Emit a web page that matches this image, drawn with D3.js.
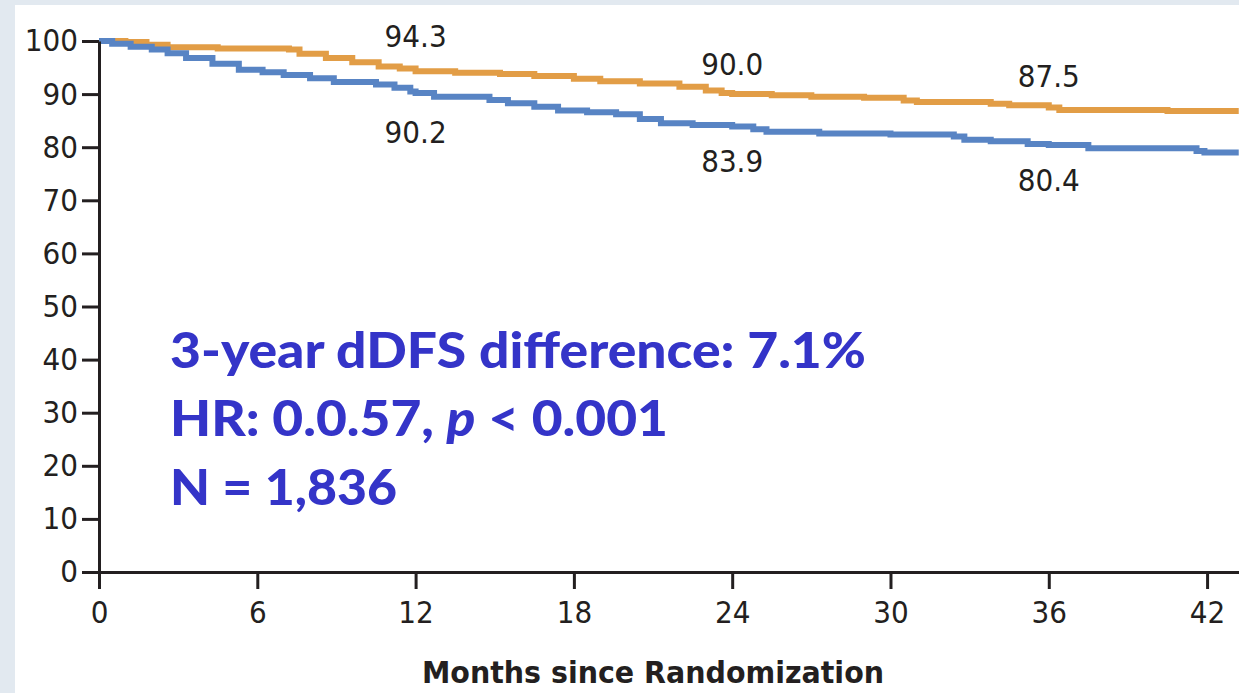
<!DOCTYPE html>
<html>
<head>
<meta charset="utf-8">
<script src="https://cdn.jsdelivr.net/npm/d3@7"></script>
<style>
  html, body { margin: 0; padding: 0; background: #e2e9f0; }
  svg { display: block; }
  .axis text { font-family: "Liberation Sans Narrow", "DejaVu Sans Condensed", sans-serif; font-size: 31px; fill: #231f20; }
  .axis path, .axis line { stroke: #231f20; stroke-width: 3px; }
</style>
</head>
<body>
<svg id="chart" width="1239" height="693"></svg>
<script>
var width = 1239;
var height = 693;

// tick labels
var monthTicks = [0, 6, 12, 18, 24, 30, 36, 42];
var pctTicks = [0, 10, 20, 30, 40, 50, 60, 70, 80, 90, 100];

// orange curve (upper arm)
var orangeMonths = [0, 1.0, 1.8, 2.6, 4.5, 7.2, 7.6, 8.6, 9.6, 10.6, 11.4, 12.0, 13.5, 15.2, 16.5, 18.0, 19.0, 20.5, 22.0, 23.0, 23.6, 24.0, 25.5, 27.0, 29.0, 30.5, 31.0, 33.8, 34.5, 36.0, 36.4, 40.5, 43.2];
var orangeSurv = [100, 99.8, 99.3, 98.8, 98.6, 98.4, 97.6, 96.8, 96.0, 95.2, 94.8, 94.3, 94.0, 93.8, 93.4, 92.9, 92.4, 92.0, 91.4, 90.7, 90.2, 90.0, 89.8, 89.5, 89.3, 88.8, 88.5, 88.2, 87.9, 87.5, 87.0, 86.8, 86.8];

// blue curve (lower arm)
var blueMonths = [0, 0.5, 1.2, 2.0, 2.6, 3.3, 4.3, 5.3, 6.2, 7.0, 8.0, 8.9, 10.5, 11.2, 11.8, 12.0, 12.7, 14.8, 15.5, 16.5, 17.4, 18.5, 19.6, 20.5, 21.3, 22.5, 24.0, 24.8, 25.3, 27.3, 30.0, 32.4, 32.8, 33.8, 35.2, 36.0, 37.5, 41.6, 41.9, 43.2];
var blueSurv = [100, 99.5, 98.9, 98.4, 97.7, 96.8, 95.7, 94.6, 94.1, 93.6, 93.0, 92.3, 91.8, 91.2, 90.5, 90.2, 89.5, 88.9, 88.3, 87.6, 86.9, 86.6, 86.2, 85.3, 84.5, 84.2, 83.9, 83.4, 82.9, 82.6, 82.4, 82.0, 81.4, 81.1, 80.6, 80.4, 79.8, 79.3, 79.0, 79.0];

// point labels at 12, 24, 36 months
var labelMonths = [12, 24, 36];
var orangeLabels = ["94.3", "90.0", "87.5"];
var blueLabels = ["90.2", "83.9", "80.4"];

var annotation = ["3-year dDFS difference: 7.1%", "HR: 0.0.57, ", "N = 1,836"];

var svg = d3.select("#chart");

// white panel
svg.append("rect")
    .attr("x", 15).attr("y", 5)
    .attr("width", width - 15).attr("height", height - 5)
    .attr("fill", "#ffffff");

var x = d3.scaleLinear().domain([0, 43.21]).range([99, 1239]);
var y = d3.scaleLinear().domain([0, 100]).range([572, 41]);

var line = d3.line()
    .x(function(d) { return x(d[0]); })
    .y(function(d) { return y(d[1]); })
    .curve(d3.curveStepAfter);

svg.append("path")
    .datum(d3.zip(orangeMonths, orangeSurv))
    .attr("d", line)
    .attr("fill", "none")
    .attr("stroke", "#e29d46")
    .attr("stroke-width", 6);

svg.append("path")
    .datum(d3.zip(blueMonths, blueSurv))
    .attr("d", line)
    .attr("fill", "none")
    .attr("stroke", "#5884c4")
    .attr("stroke-width", 6);

// axes
svg.append("g")
    .attr("class", "axis")
    .attr("transform", "translate(" + x(0) + ",0)")
    .call(d3.axisLeft(y).tickValues(pctTicks).tickSize(17).tickSizeOuter(0).tickPadding(4));

var xAxis = svg.append("g")
    .attr("class", "axis")
    .attr("transform", "translate(0," + y(0) + ")")
    .call(d3.axisBottom(x).tickValues(monthTicks).tickSize(17).tickSizeOuter(0).tickPadding(12));

xAxis.selectAll("text").attr("dy", "0.71em");

svg.append("text")
    .attr("x", 653).attr("y", 683)
    .attr("text-anchor", "middle")
    .attr("font-family", "'Liberation Sans Narrow', 'DejaVu Sans Condensed', sans-serif")
    .attr("font-weight", "bold")
    .attr("font-size", 31)
    .attr("fill", "#231f20")
    .attr("textLength", 462).attr("lengthAdjust", "spacingAndGlyphs")
    .text("Months since Randomization");

// value labels
var labelFont = "'Liberation Sans Narrow', 'DejaVu Sans Condensed', sans-serif";
svg.selectAll(".olab")
    .data(labelMonths)
    .enter().append("text")
    .attr("x", function(d) { return x(d); })
    .attr("y", function(d, i) { return [47, 75, 87][i]; })
    .attr("text-anchor", "middle")
    .attr("font-family", labelFont)
    .attr("font-size", 31)
    .attr("fill", "#231f20")
    .text(function(d, i) { return orangeLabels[i]; });

svg.selectAll(".blab")
    .data(labelMonths)
    .enter().append("text")
    .attr("x", function(d) { return x(d); })
    .attr("y", function(d, i) { return [143, 172, 191][i]; })
    .attr("text-anchor", "middle")
    .attr("font-family", labelFont)
    .attr("font-size", 31)
    .attr("fill", "#231f20")
    .text(function(d, i) { return blueLabels[i]; });

// annotation block
var annFont = "Lato, 'Open Sans', sans-serif";
var ann = svg.append("g")
    .attr("font-family", annFont)
    .attr("font-weight", 900)
    .attr("font-size", 49)
    .attr("fill", "#3434c8");

ann.append("text").attr("x", 170).attr("y", 368)
    .attr("textLength", 696).attr("lengthAdjust", "spacingAndGlyphs")
    .text(annotation[0]);

var hr = ann.append("text").attr("x", 170).attr("y", 436)
    .attr("textLength", 498).attr("lengthAdjust", "spacingAndGlyphs");
hr.append("tspan").text(annotation[1]);
hr.append("tspan").attr("font-style", "italic").text("p");
hr.append("tspan").text(" < 0.001");

ann.append("text").attr("x", 170).attr("y", 505)
    .attr("textLength", 227).attr("lengthAdjust", "spacingAndGlyphs")
    .text(annotation[2]);
</script>
</body>
</html>
